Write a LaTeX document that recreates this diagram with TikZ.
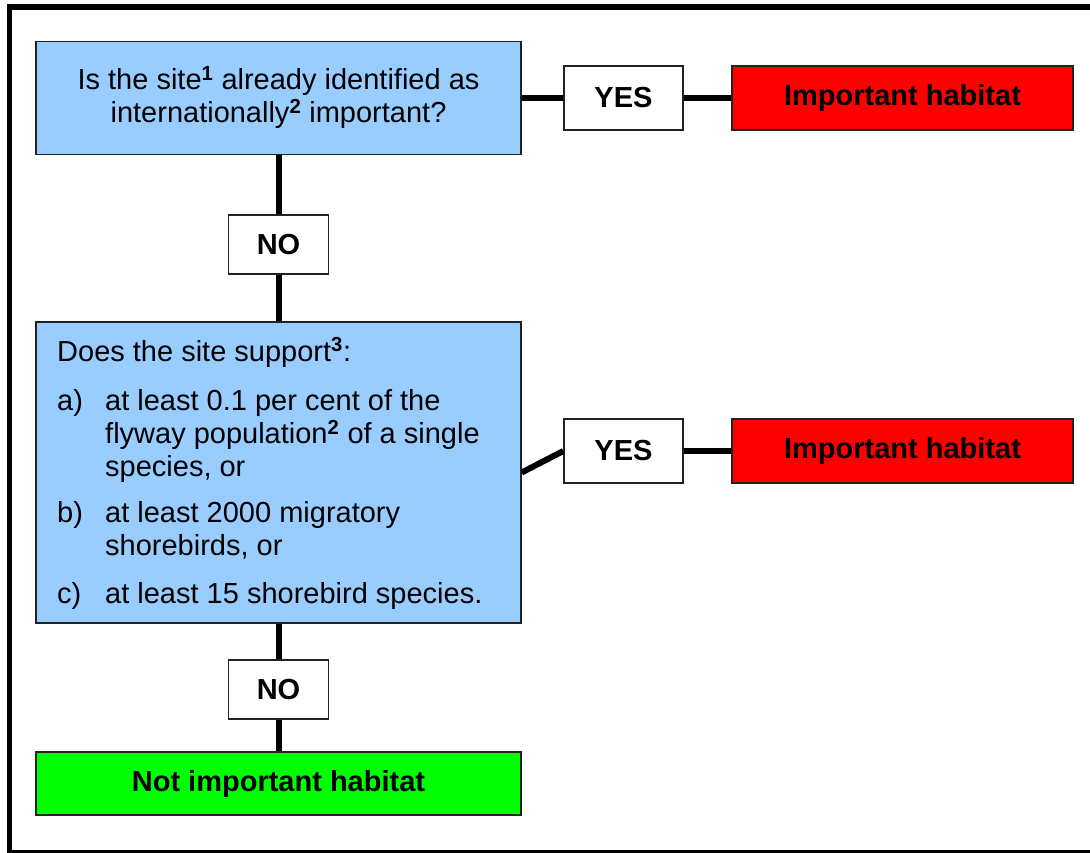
\documentclass[tikz,border=0pt]{standalone}
\usepackage{fontspec}
\setmainfont{Liberation Sans}
\usetikzlibrary{positioning}

\definecolor{qblue}{HTML}{99CCFF}
\definecolor{edgegray}{HTML}{222222}

\tikzset{
  boxbase/.style={draw=edgegray,line width=1.4pt,inner sep=0pt,
    font=\fontsize{29}{33}\selectfont},
  qbox/.style={boxbase,fill=qblue,minimum width=485,align=center},
  ansbox/.style={boxbase,fill=white,font=\fontsize{29}{33}\selectfont\bfseries},
  habbox/.style={boxbase,minimum height=64,font=\fontsize{29}{33}\selectfont\bfseries},
  link/.style={line width=6pt,draw=black}
}
\newcommand{\supnum}[1]{\textsuperscript{\textbf{#1}}}

\begin{document}
\begin{tikzpicture}[x=1pt,y=-1pt]
    \useasboundingbox (0,0) rectangle (1090,853);
    % Frame
    \draw[line width=5.5pt] (9.5,7) rectangle (1098,853);

    % First question
    \node[qbox,minimum height=113] (q1) at (278.5,98)
      {Is the site\supnum{1} already identified as\\internationally\supnum{2} important?};
    \node[ansbox,minimum width=119,minimum height=64] (yes1) at (623.5,98) {YES};
    \node[habbox,fill=red,minimum width=341] (imp1) at (902.5,98) {Important habitat};

    % Second question
    \node[qbox,minimum height=301] (q2) at (278.5,472.5) {};
    \node[anchor=base west,inner sep=0pt,font=\fontsize{29}{33}\selectfont] (q2text) at (57,361)
      {\begin{tabular}[t]{@{}p{48pt}@{}l@{}}
        \multicolumn{2}{@{}l@{}}{Does the site support\supnum{3}:}\\[16pt]
        a) & at least 0.1 per cent of the\\
           & flyway population\supnum{2} of a single\\
           & species, or\\[13pt]
        b) & at least 2000 migratory\\
           & shorebirds, or\\[15pt]
        c) & at least 15 shorebird species.
      \end{tabular}};
    \node[ansbox,minimum width=119,minimum height=64] (yes2) at (623.5,451) {YES};
    \node[habbox,fill=red,minimum width=341] (imp2) at (902.5,451) {Important habitat};

    % NO answers
    \node[ansbox,minimum width=100,minimum height=59] (no1) at (278.5,244.5) {NO};
    \node[ansbox,minimum width=100,minimum height=59] (no2) at (278.5,689.5) {NO};
    \node[habbox,fill=green,minimum width=485,minimum height=63] (notimp) at (278.5,783.5) {Not important habitat};

    % Connectors
    \draw[link] (q1.east) -- (yes1.west);
    \draw[link] (yes1.east) -- (imp1.west);
    \draw[link] (q2.east) -- (yes2.west);
    \draw[link] (yes2.east) -- (imp2.west);
    \draw[link] (q1.south) -- (no1.north);
    \draw[link] (no1.south) -- (q2.north);
    \draw[link] (q2.south) -- (no2.north);
    \draw[link] (no2.south) -- (notimp.north);
\end{tikzpicture}
\end{document}
